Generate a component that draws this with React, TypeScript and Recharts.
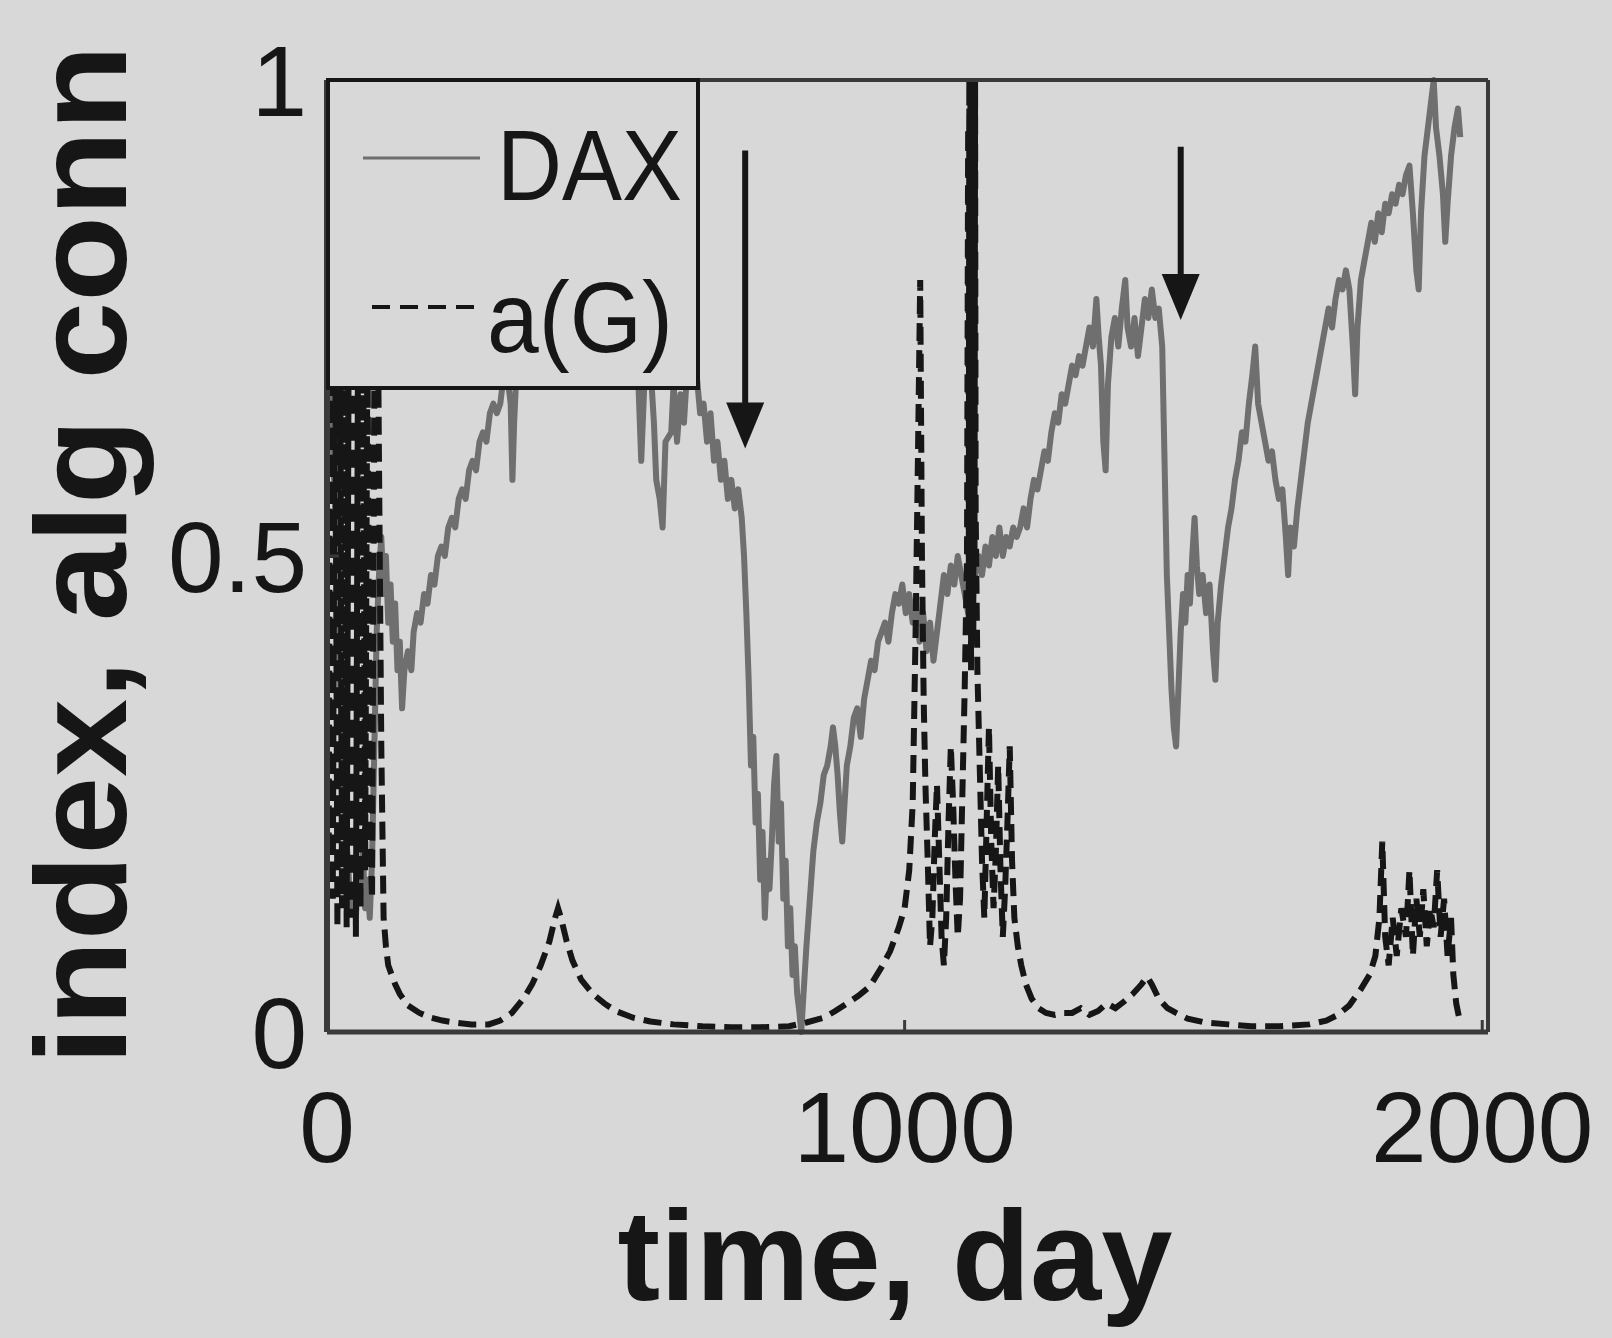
import React from "react";
import { LineChart, Line, XAxis, YAxis, ReferenceLine } from "recharts";

// values: x = day, y = normalised level
const daxDay = [
  0, 6, 10, 14, 18, 22, 26, 30, 34, 38, 42, 46, 50, 54, 58, 62, 66, 70, 74, 78,
  82, 86, 90, 94, 98, 102, 106, 110, 114, 118, 122, 126, 130, 134, 140, 146, 150, 156, 162, 168,
  174, 180, 186, 192, 198, 204, 210, 216, 222, 228, 234, 240, 246, 252, 258, 264, 270, 276, 282, 288,
  294, 300, 306, 312, 318, 321, 324, 330, 340, 360, 380, 400, 420, 440, 460, 480, 500, 520, 532, 538,
  544, 548, 552, 560, 566, 570, 576, 581, 586, 596, 600, 606, 612, 618, 624, 632, 640, 646, 652, 658,
  664, 670, 676, 682, 688, 694, 700, 706, 712, 718, 722, 726, 730, 734, 738, 742, 746, 750, 754, 758,
  762, 766, 770, 774, 778, 782, 786, 790, 794, 798, 802, 806, 810, 814, 818, 821, 826, 830, 836, 842,
  848, 854, 860, 866, 872, 876, 880, 884, 888, 892, 896, 900, 906, 912, 918, 924, 930, 936, 942, 948,
  954, 960, 966, 972, 978, 984, 990, 996, 1002, 1008, 1014, 1020, 1026, 1032, 1038, 1044, 1050, 1056, 1062, 1068,
  1074, 1080, 1086, 1092, 1098, 1104, 1110, 1116, 1122, 1128, 1134, 1140, 1146, 1152, 1158, 1164, 1170, 1176, 1182, 1188,
  1194, 1200, 1206, 1212, 1218, 1224, 1230, 1236, 1242, 1248, 1254, 1260, 1266, 1272, 1278, 1284, 1290, 1296, 1302, 1308,
  1314, 1320, 1326, 1332, 1336, 1340, 1344, 1348, 1352, 1358, 1364, 1370, 1376, 1382, 1386, 1392, 1398, 1404, 1410, 1416,
  1422, 1428, 1434, 1440, 1446, 1450, 1454, 1458, 1462, 1466, 1470, 1474, 1478, 1482, 1486, 1490, 1494, 1498, 1502, 1506,
  1510, 1516, 1522, 1528, 1534, 1538, 1542, 1548, 1554, 1560, 1566, 1572, 1578, 1584, 1590, 1596, 1602, 1607, 1612, 1618,
  1624, 1630, 1636, 1642, 1648, 1654, 1660, 1664, 1668, 1674, 1680, 1686, 1692, 1698, 1704, 1710, 1716, 1722, 1728, 1734,
  1740, 1746, 1752, 1758, 1764, 1770, 1776, 1780, 1784, 1790, 1796, 1802, 1808, 1814, 1820, 1826, 1832, 1838, 1844, 1850,
  1856, 1862, 1868, 1874, 1880, 1886, 1890, 1894, 1900, 1906, 1912, 1916, 1920, 1926, 1932, 1936, 1940, 1946, 1952, 1958,
  1962,
];
const daxValue = [
  0.74, 0.7, 0.62, 0.55, 0.45, 0.38, 0.3, 0.24, 0.2, 0.16, 0.13, 0.15, 0.12, 0.17, 0.14, 0.19, 0.13, 0.16, 0.12, 0.18,
  0.3, 0.42, 0.48, 0.52, 0.46, 0.5, 0.43, 0.47, 0.41, 0.45, 0.38, 0.41, 0.34, 0.38, 0.4, 0.38, 0.42, 0.44, 0.43, 0.46,
  0.45, 0.48, 0.47, 0.5, 0.51, 0.5, 0.53, 0.54, 0.53, 0.56, 0.57, 0.56, 0.59, 0.6, 0.59, 0.62, 0.63, 0.62, 0.65, 0.66,
  0.65, 0.66, 0.69, 0.69, 0.66, 0.58, 0.64, 0.72, 0.74, 0.78, 0.76, 0.8, 0.83, 0.8, 0.84, 0.82, 0.79, 0.76, 0.72, 0.7,
  0.6, 0.66, 0.72, 0.7, 0.64, 0.58, 0.56, 0.53, 0.62, 0.63, 0.68, 0.62, 0.67, 0.64, 0.7, 0.73, 0.69, 0.65, 0.66, 0.62,
  0.65, 0.6, 0.62, 0.58, 0.6, 0.56, 0.58, 0.55, 0.57, 0.54, 0.5, 0.44, 0.37, 0.28, 0.31, 0.22, 0.25, 0.16, 0.21, 0.12,
  0.18, 0.15, 0.2, 0.26, 0.29, 0.2, 0.24, 0.14, 0.18, 0.09, 0.13, 0.06, 0.09, 0.04, 0.02, 0.0, 0.05, 0.09, 0.14, 0.19,
  0.22, 0.24, 0.27, 0.28, 0.3, 0.32, 0.3, 0.27, 0.23, 0.2, 0.24, 0.28, 0.3, 0.33, 0.34, 0.31, 0.35, 0.37, 0.39, 0.38,
  0.41, 0.42, 0.43, 0.41, 0.44, 0.46, 0.45, 0.47, 0.44, 0.46, 0.43, 0.45, 0.41, 0.44, 0.4, 0.43, 0.39, 0.42, 0.45, 0.48,
  0.46, 0.49, 0.47, 0.5, 0.48, 0.46, 0.44, 0.47, 0.48, 0.5, 0.48, 0.51, 0.49, 0.52, 0.5, 0.53, 0.5, 0.52, 0.51, 0.53,
  0.52, 0.53, 0.55, 0.53, 0.56, 0.58, 0.57, 0.59, 0.61, 0.6, 0.63, 0.65, 0.64, 0.67, 0.66, 0.68, 0.7, 0.69, 0.71, 0.7,
  0.72, 0.74, 0.72, 0.77, 0.73, 0.7, 0.62, 0.59, 0.68, 0.73, 0.75, 0.72, 0.76, 0.79, 0.74, 0.72, 0.75, 0.71, 0.74, 0.77,
  0.75, 0.78, 0.75, 0.76, 0.72, 0.6, 0.48, 0.42, 0.36, 0.32, 0.3, 0.36, 0.42, 0.46, 0.43, 0.48, 0.45, 0.5, 0.54, 0.49,
  0.46, 0.48, 0.44, 0.47, 0.4, 0.37, 0.43, 0.47, 0.5, 0.53, 0.55, 0.58, 0.6, 0.63, 0.62, 0.66, 0.69, 0.72, 0.66, 0.64,
  0.62, 0.6, 0.61, 0.58, 0.56, 0.57, 0.52, 0.48, 0.53, 0.51, 0.55, 0.58, 0.61, 0.64, 0.66, 0.68, 0.7, 0.72, 0.74, 0.76,
  0.74, 0.77, 0.79, 0.78, 0.8, 0.78, 0.72, 0.67, 0.74, 0.79, 0.81, 0.83, 0.85, 0.83, 0.86, 0.84, 0.87, 0.86, 0.88, 0.87,
  0.89, 0.88, 0.9, 0.91, 0.86, 0.8, 0.78, 0.86, 0.92, 0.95, 0.98, 1.0, 0.95, 0.92, 0.88, 0.83, 0.87, 0.92, 0.95, 0.97,
  0.94,
];

const algDay = [
  0, 3, 6, 10, 14, 18, 22, 26, 30, 34, 38, 42, 46, 50, 54, 58, 62, 66, 70, 74,
  78, 82, 86, 90, 94, 98, 102, 106, 112, 118, 126, 140, 160, 180, 200, 220, 250, 280, 300, 320,
  340, 355, 370, 385, 395, 400, 405, 415, 425, 440, 460, 480, 500, 530, 560, 600, 650, 700, 750, 800,
  830, 860, 880, 900, 920, 940, 960, 975, 990, 1000, 1008, 1014, 1019, 1023, 1027, 1030, 1033, 1036, 1040, 1044,
  1048, 1052, 1056, 1060, 1064, 1068, 1072, 1076, 1080, 1084, 1088, 1092, 1096, 1100, 1104, 1108, 1110, 1111, 1112, 1113,
  1114, 1115, 1116, 1117, 1118, 1119, 1120, 1121, 1122, 1123, 1126,
  1130, 1134, 1138, 1142, 1146, 1150, 1154, 1158, 1162, 1166, 1170, 1174, 1178, 1182, 1186, 1190,
  1196, 1202, 1210, 1220, 1232, 1245, 1260, 1275, 1290, 1305, 1320, 1335, 1350, 1365, 1380, 1395, 1410, 1420, 1428, 1440,
  1455, 1470, 1490, 1520, 1560, 1600, 1650, 1700, 1730, 1750, 1770, 1790, 1805, 1815, 1822, 1827, 1832, 1838, 1845, 1852,
  1860, 1868, 1874, 1880, 1886, 1892, 1898, 1904, 1910, 1916, 1922, 1928, 1934, 1940, 1946, 1950, 1955, 1960,
];
const algValue = [
  0.72, 0.2, 0.85, 0.14, 0.8, 0.11, 0.88, 0.13, 0.76, 0.11, 0.82, 0.12, 0.9, 0.1, 0.78, 0.13, 0.84, 0.17, 0.74, 0.22,
  0.14, 0.7, 0.92, 0.6, 0.3, 0.12, 0.09, 0.07, 0.06, 0.05, 0.04, 0.028, 0.02, 0.015, 0.012, 0.01, 0.008, 0.008, 0.012, 0.02,
  0.035, 0.05, 0.07, 0.095, 0.12, 0.13, 0.12, 0.095, 0.075, 0.055, 0.04, 0.03, 0.022, 0.015, 0.011, 0.008, 0.006, 0.005, 0.005, 0.006,
  0.01, 0.015, 0.022, 0.03, 0.038, 0.048, 0.068, 0.085, 0.11, 0.13, 0.17, 0.24, 0.42, 0.6, 0.79, 0.5, 0.35, 0.26, 0.18, 0.09,
  0.12, 0.2, 0.26, 0.18, 0.1, 0.07, 0.12, 0.22, 0.3, 0.24, 0.16, 0.1, 0.14, 0.25, 0.36, 0.5, 0.95, 0.42, 1.0, 0.5,
  1.0, 0.38, 0.98, 0.45, 1.0, 0.42, 0.96, 0.5, 1.0, 0.55, 0.38,
  0.28, 0.18, 0.12, 0.22, 0.32, 0.2, 0.13, 0.19, 0.28, 0.17, 0.1, 0.15, 0.22, 0.3, 0.18, 0.12,
  0.09, 0.07, 0.05, 0.035, 0.025, 0.02, 0.018, 0.02, 0.02, 0.025, 0.018, 0.022, 0.03, 0.025, 0.032, 0.04, 0.05, 0.058, 0.05, 0.035,
  0.025, 0.02, 0.014, 0.01, 0.008, 0.006, 0.006, 0.008, 0.012, 0.018, 0.028, 0.045, 0.06, 0.08, 0.12, 0.2, 0.1, 0.07, 0.12, 0.08,
  0.13, 0.1, 0.17, 0.08, 0.14, 0.1, 0.15, 0.09, 0.13, 0.11, 0.17, 0.1, 0.14, 0.08, 0.12, 0.06, 0.03, 0.015,
];

const xTicks = [0, 1000, 2000];
const yTicks = [0, 0.5, 1];
const arrowDay = [724, 1478];
const arrowFrom = [0.926, 0.93];
const arrowTo = [0.613, 0.748];

const daxData = daxDay.map((d, i) => ({ day: d, v: daxValue[i] }));
const algData = algDay.map((d, i) => ({ day: d, v: algValue[i] }));

const BG = "#d8d8d8";
const INK = "#161616";
const FRAME = "#3a3a3a";
const GRAY = "#6f6f6f";
const FONT = "'Liberation Sans', Arial, Helvetica, sans-serif";
const TICK_LEN = 12;
const X_GAP = 58;
const Y_GAP = 20;

function BottomTick(props: any) {
  const { x, y, payload } = props;
  const axisY = y - X_GAP;
  return (
    <g>
      <line x1={x} x2={x} y1={axisY} y2={axisY - TICK_LEN} stroke={FRAME} strokeWidth={3} />
      <text x={x} y={y + 72} textAnchor="middle" fontSize={100} fontFamily={FONT} fill={INK}>
        {payload.value}
      </text>
    </g>
  );
}

function LeftTick(props: any) {
  const { x, y, payload } = props;
  const axisX = x + Y_GAP;
  return (
    <g>
      <line x1={axisX} x2={axisX + TICK_LEN} y1={y} y2={y} stroke={FRAME} strokeWidth={3} />
      <text x={x} y={y + 36} textAnchor="end" fontSize={100} fontFamily={FONT} fill={INK}>
        {payload.value}
      </text>
    </g>
  );
}

function TopTick(props: any) {
  const { x, y } = props;
  return <line x1={x} x2={x} y1={y} y2={y + TICK_LEN} stroke={FRAME} strokeWidth={3} />;
}

function RightTick(props: any) {
  const { x, y } = props;
  return <line x1={x} x2={x - TICK_LEN} y1={y} y2={y} stroke={FRAME} strokeWidth={3} />;
}

function Arrow(props: any) {
  const { x1, y1, x2, y2 } = props;
  const head = 46;
  const dir = y2 > y1 ? 1 : -1;
  return (
    <g>
      <line x1={x1} y1={y1} x2={x2} y2={y2 - dir * (head - 4)} stroke={INK} strokeWidth={6} />
      <polygon
        points={`${x2 - 19},${y2 - dir * head} ${x2 + 19},${y2 - dir * head} ${x2},${y2}`}
        fill={INK}
      />
    </g>
  );
}

export default function App() {
  return (
    <div
      style={{
        position: "absolute",
        left: 0,
        top: 0,
        width: 1612,
        height: 1338,
        background: BG,
        overflow: "hidden",
      }}
    >
      <LineChart width={1612} height={1338} margin={{ top: 79, right: 123, bottom: 106, left: 27 }}>
        <XAxis
          xAxisId="b"
          dataKey="day"
          type="number"
          domain={[0, 2010]}
          ticks={xTicks}
          interval={0}
          height={200}
          tickSize={0}
          tickLine={false}
          tickMargin={X_GAP}
          tick={(p: any) => <BottomTick {...p} />}
          axisLine={{ stroke: FRAME, strokeWidth: 5 }}
        />
        <XAxis
          xAxisId="t"
          orientation="top"
          dataKey="day"
          type="number"
          domain={[0, 2010]}
          ticks={xTicks}
          interval={0}
          height={1}
          tickSize={0}
          tickLine={false}
          tickMargin={0}
          tick={(p: any) => <TopTick {...p} />}
          axisLine={{ stroke: FRAME, strokeWidth: 4 }}
        />
        <YAxis
          yAxisId="l"
          type="number"
          domain={[0, 1]}
          ticks={yTicks}
          interval={0}
          width={300}
          tickSize={0}
          tickLine={false}
          tickMargin={Y_GAP}
          tick={(p: any) => <LeftTick {...p} />}
          axisLine={{ stroke: FRAME, strokeWidth: 6 }}
        />
        <YAxis
          yAxisId="r"
          orientation="right"
          type="number"
          domain={[0, 1]}
          ticks={yTicks}
          interval={0}
          width={1}
          tickSize={0}
          tickLine={false}
          tickMargin={0}
          tick={(p: any) => <RightTick {...p} />}
          axisLine={{ stroke: FRAME, strokeWidth: 4 }}
        />
        <Line
          xAxisId="b"
          yAxisId="l"
          data={daxData}
          dataKey="v"
          type="linear"
          stroke={GRAY}
          strokeWidth={6}
          strokeLinejoin="round"
          dot={false}
          isAnimationActive={false}
        />
        <Line
          xAxisId="b"
          yAxisId="l"
          data={algData}
          dataKey="v"
          type="linear"
          stroke={INK}
          strokeWidth={6}
          strokeDasharray="18 9"
          dot={false}
          isAnimationActive={false}
        />
        {arrowDay.map((d, i) => (
          <ReferenceLine
            key={d}
            xAxisId="b"
            yAxisId="l"
            segment={[
              { x: d, y: arrowFrom[i] },
              { x: d, y: arrowTo[i] },
            ]}
            shape={(p: any) => <Arrow {...p} />}
          />
        ))}
      </LineChart>
      <svg
        width={1612}
        height={1338}
        style={{ position: "absolute", left: 0, top: 0, pointerEvents: "none" }}
      >
        <rect x={328} y={80} width={370} height={308} fill={BG} stroke={INK} strokeWidth={4} />
        <line x1={363} x2={480} y1={158} y2={158} stroke={GRAY} strokeWidth={3} />
        <text
          x={497}
          y={200}
          fontSize={100}
          fontFamily={FONT}
          fill={INK}
          textLength={185}
          lengthAdjust="spacingAndGlyphs"
        >
          DAX
        </text>
        <line x1={372} x2={478} y1={307} y2={307} stroke={INK} strokeWidth={4} strokeDasharray="18 10" />
        <text
          x={487}
          y={352}
          fontSize={100}
          fontFamily={FONT}
          fill={INK}
          textLength={186}
          lengthAdjust="spacingAndGlyphs"
        >
          a(G)
        </text>
        <text
          x={895}
          y={1300}
          textAnchor="middle"
          fontSize={128}
          fontWeight="bold"
          fontFamily={FONT}
          fill={INK}
        >
          time, day
        </text>
        <text
          transform="translate(126,555) rotate(-90)"
          textAnchor="middle"
          fontSize={130}
          fontWeight="bold"
          fontFamily={FONT}
          fill={INK}
          textLength={1020}
          lengthAdjust="spacingAndGlyphs"
        >
          index, alg conn
        </text>
      </svg>
    </div>
  );
}
